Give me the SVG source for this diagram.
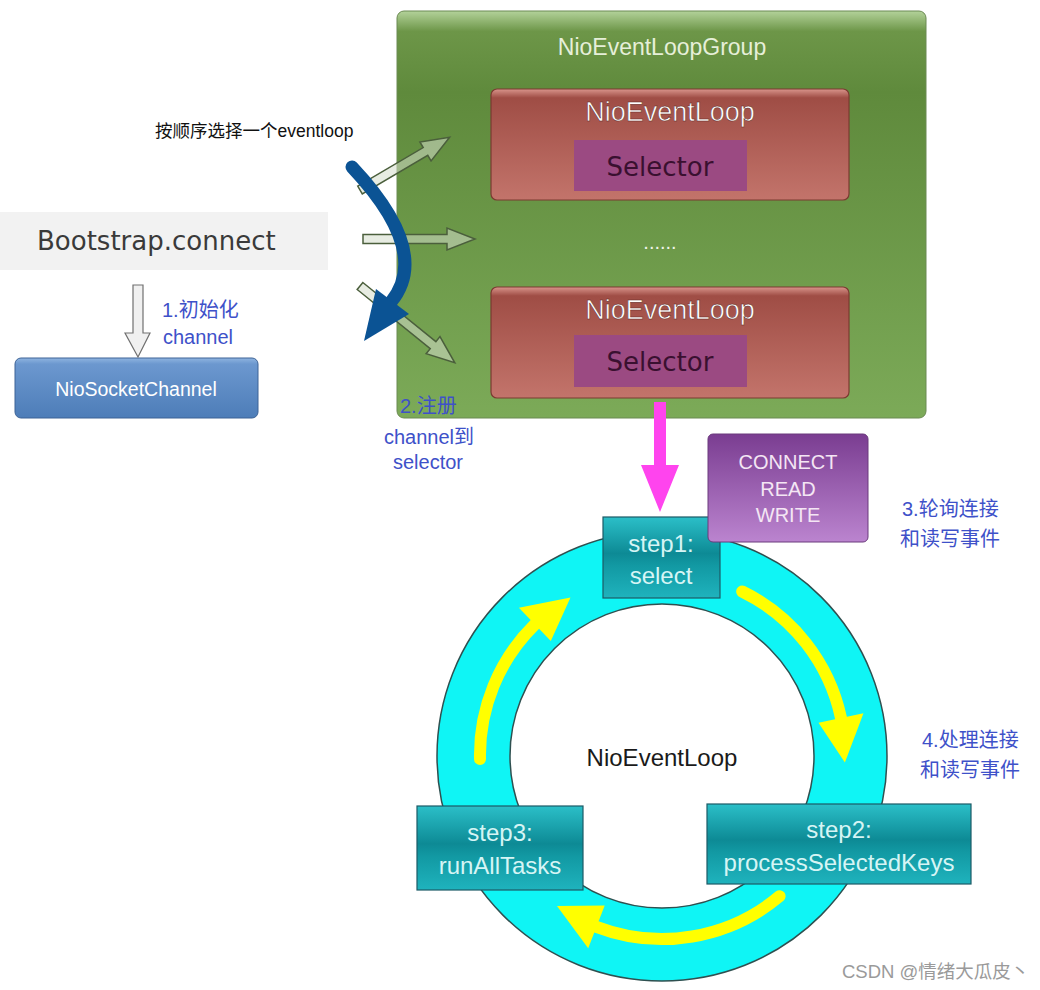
<svg xmlns="http://www.w3.org/2000/svg" width="1040" height="990" viewBox="0 0 1040 990">
<defs>
<linearGradient id="gGreen" x1="0" y1="0" x2="0" y2="1">
<stop offset="0" stop-color="#b3d29a"/>
<stop offset="0.05" stop-color="#6d9648"/>
<stop offset="0.2" stop-color="#5f8a3c"/>
<stop offset="1" stop-color="#7caa58"/>
</linearGradient>
<linearGradient id="gRed" x1="0" y1="0" x2="0" y2="1">
<stop offset="0" stop-color="#d9958c"/>
<stop offset="0.08" stop-color="#9f4d45"/>
<stop offset="1" stop-color="#c3746b"/>
</linearGradient>
<linearGradient id="gBlue" x1="0" y1="0" x2="0" y2="1">
<stop offset="0" stop-color="#8fb4e0"/>
<stop offset="0.1" stop-color="#6c98cf"/>
<stop offset="1" stop-color="#4d7db8"/>
</linearGradient>
<linearGradient id="gTeal" x1="0" y1="0" x2="0" y2="1">
<stop offset="0" stop-color="#2bbfc8"/>
<stop offset="0.45" stop-color="#0d8a95"/>
<stop offset="0.6" stop-color="#1299a3"/>
<stop offset="1" stop-color="#1fb3bd"/>
</linearGradient>
<linearGradient id="gPurple" x1="0" y1="0" x2="0" y2="1">
<stop offset="0" stop-color="#7a3d91"/>
<stop offset="1" stop-color="#bb84cf"/>
</linearGradient>
<style>
.sans{font-family:"Liberation Sans",Arial,"Noto Sans CJK SC",sans-serif}
.dv{font-family:"DejaVu Sans",Verdana,sans-serif}
.blue{fill:#3e51c9;font-size:20px;font-family:"Liberation Sans",Arial,"Noto Sans CJK SC",sans-serif}
.teal{fill:url(#gTeal);stroke:#1c5a66;stroke-width:1.2}
.tealt{fill:#d6f5f5;font-size:24px;text-anchor:middle;font-family:"Liberation Sans",Arial,sans-serif}
.loop{fill:url(#gRed);stroke:#7b3a31;stroke-width:1.2}
.sel{fill:#9b4a82}
.hollow{fill:#d4dccb;fill-opacity:0.55;stroke:#4b5f3c;stroke-width:1.5;stroke-linejoin:miter}
.yel{fill:none;stroke:#ffff00;stroke-width:12;stroke-linecap:round}
</style>
</defs>
<rect width="1040" height="990" fill="#ffffff"/>

<g id="group">
<rect x="397" y="11" width="529" height="407" rx="7" fill="url(#gGreen)" stroke="#6b8a52" stroke-width="1"/>
<text x="662" y="55" class="sans" font-size="23" fill="#e6efd9" text-anchor="middle">NioEventLoopGroup</text>
<text x="660" y="249" class="sans" font-size="20" fill="#f0f4ea" text-anchor="middle">......</text>
</g>

<g id="loop1">
<rect x="491" y="89" width="358" height="111" rx="6" class="loop"/>
<text x="670" y="121" class="sans" font-size="27" fill="#ffffff" text-anchor="middle" stroke="#5a2420" stroke-width="0.5">NioEventLoop</text>
<rect x="574" y="140" width="173" height="51" class="sel"/>
<text x="660" y="176" class="dv" font-size="26" fill="#3a1030" text-anchor="middle">Selector</text>
</g>

<g id="loop2">
<rect x="491" y="287" width="358" height="111" rx="6" class="loop"/>
<text x="670" y="319" class="sans" font-size="27" fill="#ffffff" text-anchor="middle" stroke="#5a2420" stroke-width="0.5">NioEventLoop</text>
<rect x="574" y="335" width="173" height="52" class="sel"/>
<text x="660" y="371" class="dv" font-size="26" fill="#3a1030" text-anchor="middle">Selector</text>
</g>

<g id="bootstrap">
<rect x="0" y="212" width="328" height="58" fill="#f2f2f2"/>
<text x="37" y="250" class="dv" font-size="26" fill="#3a3a3a">Bootstrap.connect</text>
</g>

<g id="niosocketchannel">
<rect x="15" y="358" width="243" height="60" rx="6" fill="url(#gBlue)" stroke="#3d6396" stroke-width="1"/>
<text x="136" y="396" class="sans" font-size="19.5" fill="#ffffff" text-anchor="middle">NioSocketChannel</text>
</g>

<g id="ring">
<path d="M 437 756 A 225 225 0 1 0 887 756 A 225 225 0 1 0 437 756 Z M 510 756 A 152 152 0 1 1 814 756 A 152 152 0 1 1 510 756 Z" fill="#0ff5f5" fill-rule="evenodd" stroke="#2f5050" stroke-width="1.5"/>
<text x="662" y="766" class="sans" font-size="24" fill="#1a1a1a" text-anchor="middle">NioEventLoop</text>
</g>

<g id="connectors">
<polygon class="hollow" transform="translate(360,190) rotate(-30.5)" points="0,-4.5 76,-4.5 76,-11 104,0 76,11 76,4.5 0,4.5"/>
<polygon class="hollow" transform="translate(363,239)" points="0,-4.5 84,-4.5 84,-11 112,0 84,11 84,4.5 0,4.5"/>
<polygon class="hollow" transform="translate(360,286) rotate(39)" points="0,-4.5 94,-4.5 94,-11 122,0 94,11 94,4.5 0,4.5"/>
<path d="M 352 167 Q 432 252 391 302" fill="none" stroke="#0b5394" stroke-width="13" stroke-linecap="round"/>
<polygon points="376,289 409,314 364,341" fill="#0b5394"/>
<polygon points="133,285 143,285 143,333 150,333 138,357 125,333 133,333" fill="#f0f0f0" stroke="#707070" stroke-width="1.2"/>
<polygon points="654,402 666,402 666,465 679,465 660,512 641,465 654,465" fill="#ff44ee"/>
<path class="yel" d="M 480 759 A 183 183 0 0 1 534.9 624.4"/>
<polygon points="518.9,607.8 570.5,597.5 550.8,640.9" fill="#ffff00"/>
<path class="yel" d="M 742.2 591.5 A 183 183 0 0 1 841 718"/>
<polygon points="863.5,713.2 844.9,762.4 818.5,722.7" fill="#ffff00"/>
<path class="yel" d="M 779.6 896.2 A 183 183 0 0 1 596.4 926.8"/>
<polygon points="604.7,905.4 557,905.9 588.2,948.3" fill="#ffff00"/>
</g>

<g id="step1">
<rect x="603" y="517" width="117" height="81" class="teal"/>
<text x="661" y="552" class="tealt">step1:</text>
<text x="661" y="584" class="tealt">select</text>
</g>

<g id="step2">
<rect x="707" y="804" width="264" height="80" class="teal"/>
<text x="839" y="838" class="tealt">step2:</text>
<text x="839" y="871" class="tealt">processSelectedKeys</text>
</g>

<g id="step3">
<rect x="417" y="806" width="166" height="84" class="teal"/>
<text x="500" y="841" class="tealt">step3:</text>
<text x="500" y="874" class="tealt">runAllTasks</text>
</g>

<g id="events">
<rect x="708" y="434" width="160" height="108" rx="5" fill="url(#gPurple)" stroke="#6b3a7c" stroke-width="1"/>
<text x="788" y="469" class="sans" font-size="20" fill="#f4e6f4" text-anchor="middle">CONNECT</text>
<text x="788" y="496" class="sans" font-size="20" fill="#f4e6f4" text-anchor="middle">READ</text>
<text x="788" y="522" class="sans" font-size="20" fill="#f4e6f4" text-anchor="middle">WRITE</text>
</g>

<g id="labels">
<text x="155" y="137" class="sans" font-size="17.5" fill="#111111">按顺序选择一个eventloop</text>
<text x="162" y="317" class="blue">1.初始化</text>
<text x="163" y="344" class="blue">channel</text>
<text x="400" y="413" class="blue">2.注册</text>
<text x="384" y="444" class="blue">channel到</text>
<text x="393" y="469" class="blue">selector</text>
<text x="902" y="516" class="blue">3.轮询连接</text>
<text x="900" y="546" class="blue">和读写事件</text>
<text x="922" y="747" class="blue">4.处理连接</text>
<text x="920" y="777" class="blue">和读写事件</text>
<text x="842" y="978" class="sans" font-size="18.5" fill="#9a9a9a">CSDN @情绪大瓜皮丶</text>
</g>
</svg>
